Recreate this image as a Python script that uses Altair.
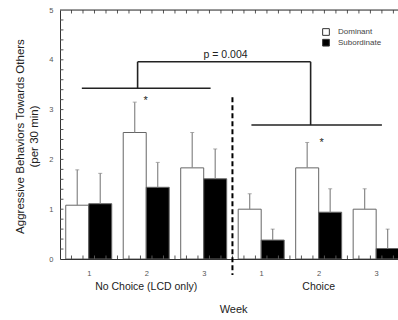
import altair as alt
import pandas as pd

# ---- data ----
weeks = [1, 2, 3, 4, 5, 6]
week_labels = ["1", "2", "3", "1", "2", "3"]
dominant = [1.08, 2.54, 1.83, 1.00, 1.83, 1.00]
dominant_err = [0.71, 0.61, 0.71, 0.31, 0.51, 0.41]
subordinate = [1.11, 1.44, 1.61, 0.38, 0.94, 0.21]
subordinate_err = [0.61, 0.50, 0.60, 0.22, 0.47, 0.39]
groups = ["Dominant", "Subordinate"]

group_labels = ["No Choice (LCD only)", "Choice"]
group_label_x = [2, 5]

# bracket segments (x, x2, y, y2)
seg_x = [0.88, 1.85, 1.85, 4.86, 3.83]
seg_x2 = [3.12, 1.85, 4.86, 4.86, 6.10]
seg_y = [3.43, 3.43, 3.96, 3.96, 2.69]
seg_y2 = [3.43, 3.96, 3.96, 2.69, 2.69]

star_x = [1.99, 5.05]
star_y = [3.17, 2.33]

XMIN, XMAX = 0.5, 6.38
BW = 0.4

rows = []
for w, d, de, s, se in zip(weeks, dominant, dominant_err, subordinate, subordinate_err):
    rows.append(dict(group="Dominant", x0=w - BW, x1=w, xc=w - BW / 2, v=d, top=d + de))
    rows.append(dict(group="Subordinate", x0=w, x1=w + BW, xc=w + BW / 2, v=s, top=s + se))
bars_df = pd.DataFrame(rows)

xscale = alt.Scale(domain=[XMIN, XMAX], nice=False, zero=False)
yscale = alt.Scale(domain=[0, 5], nice=False)

base = alt.Chart(bars_df)

bars = base.mark_bar(stroke="#666666", strokeWidth=1, clip=True).encode(
    x=alt.X("x0:Q", scale=xscale,
            axis=alt.Axis(values=weeks,
                          labelExpr="datum.value > 3 ? datum.value - 3 : datum.value",
                          ticks=False, grid=False, title=None, labelFontSize=7.5,
                          labelColor="#555555", labelPadding=10, labelFont="Liberation Sans",
                          domainColor="#333333", labelFlush=False)),
    x2="x1:Q",
    y=alt.Y("v:Q", scale=yscale,
            axis=alt.Axis(values=[0, 1, 2, 3, 4, 5], ticks=False, grid=False,
                          labelFontSize=7.5, labelColor="#555555", labelPadding=7,
                          labelFont="Liberation Sans", domainColor="#333333",
                          title=["Aggressive Behaviors Towards Others", "(per 30 min)"],
                          titleFont="Liberation Sans", titleFontSize=11.5,
                          titleFontWeight="normal", titleColor="#222222",
                          titleLineHeight=14, titleX=-40, titleY=126,
                          titleBaseline="middle", titleAngle=-90, titleAlign="center")),
    y2=alt.datum(0),
    fill=alt.Fill("group:N", scale=alt.Scale(domain=groups, range=["white", "black"]),
                  legend=alt.Legend(title=None, orient="none", legendX=262, legendY=18,
                                    symbolType="square", symbolSize=45,
                                    symbolStrokeColor="#333333", symbolStrokeWidth=1,
                                    labelFontSize=8, labelFont="Liberation Sans",
                                    labelColor="#444444", rowPadding=-1.3,
                                    labelOffset=8, labelLimit=200)),
)

err = base.mark_rule(color="#888888", strokeWidth=1.2, clip=True).encode(
    x="xc:Q", y="v:Q", y2="top:Q")
caps = base.mark_tick(color="#888888", thickness=1, size=4, orient="horizontal",
                      clip=True).encode(x="xc:Q", y="top:Q")

# axis ticks (inward)
lt_df = pd.DataFrame({"y": [i / 5 for i in range(1, 25)]})
left_ticks = alt.Chart(lt_df).mark_rule(color="#555555", strokeWidth=1).encode(
    y="y:Q", x=alt.datum(XMIN), x2=alt.datum(XMIN + 0.06))
tick_x = [0.7 + 0.2 * i for i in range(29)]
tx_df = pd.DataFrame({"x": tick_x})
top_ticks = alt.Chart(tx_df).mark_rule(color="#555555", strokeWidth=1).encode(
    x="x:Q", y=alt.datum(5), y2=alt.datum(4.93))
bot_ticks = alt.Chart(tx_df).mark_rule(color="#555555", strokeWidth=1).encode(
    x="x:Q", y=alt.datum(0), y2=alt.datum(0.07))
top_line = alt.Chart(pd.DataFrame({"a": [0]})).mark_rule(color="#333333", strokeWidth=1).encode(
    x=alt.datum(XMIN), x2=alt.datum(XMAX), y=alt.datum(5))

# dashed separator
dash = alt.Chart(pd.DataFrame({"x": [3.5], "y": [3.25], "y2": [-0.32]})).mark_rule(
    color="black", strokeWidth=2, strokeDash=[5, 3]).encode(x="x:Q", y="y:Q", y2="y2:Q")

# brackets
seg_df = pd.DataFrame({"x": seg_x, "x2": seg_x2, "y": seg_y, "y2": seg_y2})
brackets = alt.Chart(seg_df).mark_rule(color="#222222", strokeWidth=1.6).encode(
    x="x:Q", x2="x2:Q", y="y:Q", y2="y2:Q")

ptext = alt.Chart(pd.DataFrame({"x": [3.38], "y": [4.09], "t": ["p = 0.004"]})).mark_text(
    font="Liberation Sans", fontSize=10.5, color="#222222", baseline="middle").encode(
    x="x:Q", y="y:Q", text="t:N")

stars = alt.Chart(pd.DataFrame({"x": star_x, "y": star_y, "t": ["*", "*"]})).mark_text(
    font="Liberation Sans", fontSize=11, color="#222222", baseline="middle").encode(
    x="x:Q", y="y:Q", text="t:N")

glab = alt.Chart(pd.DataFrame({"x": group_label_x, "y": [-0.56, -0.56], "t": group_labels})).mark_text(
    font="Liberation Sans", fontSize=10.5, color="#222222", baseline="middle").encode(
    x="x:Q", y="y:Q", text="t:N")

week_title = alt.Chart(pd.DataFrame({"x": [3.52], "y": [-1.03], "t": ["Week"]})).mark_text(
    font="Liberation Sans", fontSize=11, color="#222222", baseline="middle").encode(
    x="x:Q", y="y:Q", text="t:N")

chart = alt.layer(
    bars, err, caps, left_ticks, top_ticks, bot_ticks, top_line, dash, brackets,
    ptext, stars, glab, week_title
).properties(
    width=338, height=249,
    autosize=alt.AutoSizeParams(type="none"),
    padding={"left": 60, "top": 10, "right": 0, "bottom": 61},
).configure_view(strokeWidth=0).configure(background="white")

chart.save("out.html", embed_options={"renderer": "svg", "actions": False})
